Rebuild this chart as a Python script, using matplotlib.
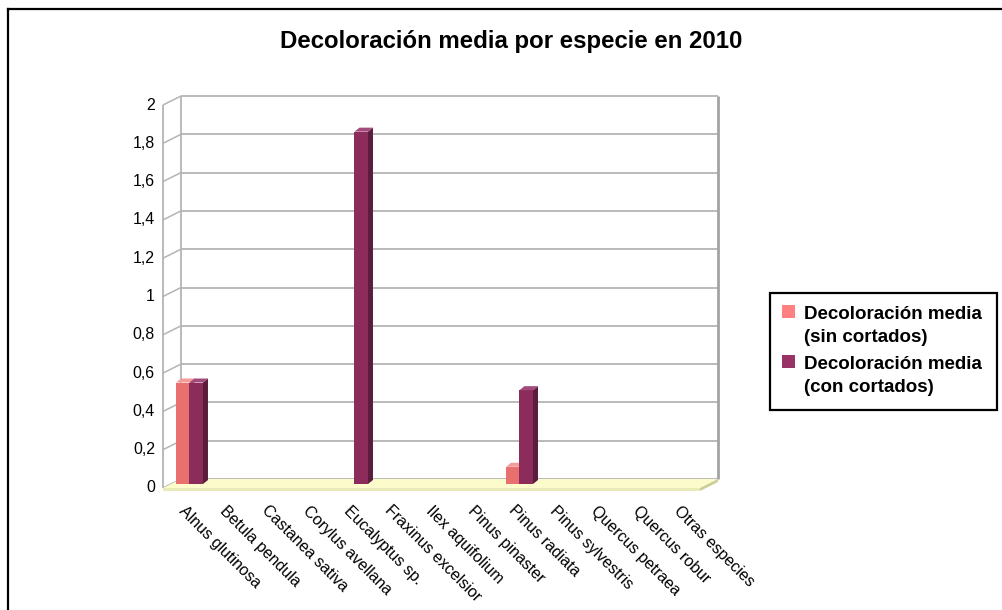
import matplotlib
matplotlib.use("Agg")
import matplotlib.pyplot as plt
from matplotlib.patches import Polygon, Rectangle
from matplotlib.lines import Line2D
from matplotlib.transforms import IdentityTransform, ScaledTranslation
import numpy as np

plt.rcParams['font.family'] = ['Liberation Sans', 'DejaVu Sans']

# ---- data -------------------------------------------------------------
title = "Decoloración media por especie en 2010"
especies = [
    "Alnus glutinosa", "Betula pendula", "Castanea sativa", "Corylus avellana",
    "Eucalyptus sp.", "Fraxinus excelsior", "Ilex aquifolium", "Pinus pinaster",
    "Pinus radiata", "Pinus sylvestris", "Quercus petraea", "Quercus robur",
    "Otras especies",
]
decol_sin_cortados = [0.53, 0, 0, 0, 0, 0, 0, 0, 0.09, 0, 0, 0, 0]
decol_con_cortados = [0.53, 0, 0, 0, 1.84, 0, 0, 0, 0.49, 0, 0, 0, 0]
series_labels = [("Decoloración media", "(sin cortados)"),
                 ("Decoloración media", "(con cortados)")]
y_ticks = [0, 0.2, 0.4, 0.6, 0.8, 1.0, 1.2, 1.4, 1.6, 1.8, 2.0]
y_tick_labels = ["0", "0,2", "0,4", "0,6", "0,8", "1", "1,2", "1,4", "1,6", "1,8", "2"]

# ---- style ------------------------------------------------------------
PINK = dict(front="#e8716f", top="#f39d9a", side="#b55451", legend="#ff8080")
PURPLE = dict(front="#8b2c5b", top="#a24a7b", side="#5c1c3c", legend="#993366")
GRID = "#b4b4b4"
FLOOR_TOP = "#fbfbcc"
FLOOR_FRONT = "#eaeab8"
FLOOR_SIDE = "#cdcd98"

W, H, DPI = 1003, 610, 100
fig = plt.figure(figsize=(W / DPI, H / DPI), dpi=DPI)
fig.patch.set_facecolor("white")

# axes = the plane in which the bar fronts stand
ax = fig.add_axes([172 / W, 126 / H, 537 / W, 383 / H])
ax.set_autoscale_on(False)
ax.set_xlim(-0.424, 12.594)
ax.set_ylim(0, 2)
ax.axis("off")

BACK = (9, 5)      # pixel shift from bar plane to back wall
FRONT = (-9, -4)   # pixel shift from bar plane to front edge
BAR_DEPTH = (5, 4)  # visible depth of each column


def shift(dx, dy):
    return ScaledTranslation(dx / DPI, dy / DPI, fig.dpi_scale_trans)


yax = ax.get_yaxis_transform()


def wall_pt(xa, v, off):
    return (yax + shift(*off)).transform((xa, v))


def add_line(p, q, color, lw, z):
    ln = Line2D([p[0], q[0]], [p[1], q[1]], color=color, lw=lw,
                transform=IdentityTransform(), zorder=z, clip_on=False,
                solid_capstyle="butt")
    ax.add_artist(ln)


def add_poly(pts, color, z):
    pg = Polygon(np.array(pts), closed=True, facecolor=color, edgecolor="none",
                 transform=IdentityTransform(), zorder=z, clip_on=False)
    ax.add_artist(pg)


# back wall grid, left wall ticks and wall edges
for v in y_ticks:
    add_line(wall_pt(0, v, BACK), wall_pt(1, v, BACK), GRID, 1.3, 1)
    add_line(wall_pt(0, v, BACK), wall_pt(0, v, FRONT), GRID, 1.1, 1)
add_line(wall_pt(0, 0, BACK), wall_pt(0, 2, BACK), GRID, 1.3, 1)
add_line(wall_pt(0, 0, FRONT), wall_pt(0, 2, FRONT), GRID, 1.3, 1)
add_line(wall_pt(1, 0, BACK), wall_pt(1, 2, BACK), "#a4a4a4", 2.0, 1)

# floor slab
bl, br = wall_pt(0, 0, BACK), wall_pt(1, 0, BACK)
fl, fr = wall_pt(0, 0, FRONT), wall_pt(1, 0, FRONT)
thick = np.array([0, -3])
add_poly([bl, br, fr, fl], FLOOR_TOP, 2)
add_poly([fl, fr, fr + thick, fl + thick], FLOOR_FRONT, 2)
add_poly([br, fr, fr + thick, br + thick], FLOOR_SIDE, 2)

# y tick labels on the front edge
for v, lab in zip(y_ticks, y_tick_labels):
    ax.text(0, v, lab, transform=yax + shift(FRONT[0] - 8, FRONT[1]),
            ha="right", va="center", fontsize=11.5, color="black")

# columns
x = np.arange(len(especies))
bw = 0.327
for vals, offs, col, z in [(decol_sin_cortados, -bw / 2, PINK, 4),
                           (decol_con_cortados, bw / 2, PURPLE, 6)]:
    ax.bar(x + offs, vals, bw, color=col["front"], zorder=z + 1, linewidth=0)
    for xi, h in zip(x, vals):
        if h <= 0:
            continue
        xl, xr = xi + offs - bw / 2, xi + offs + bw / 2
        A = ax.transData.transform((xr, 0))
        B = ax.transData.transform((xr, h))
        TL = ax.transData.transform((xl, h))
        d = np.array(BAR_DEPTH)
        add_poly([A, B, B + d, A + d], col["side"], z)
        add_poly([TL, B, B + d, TL + d], col["top"], z + 1)

# category labels, hanging diagonally below the floor
for xi, name in zip(x, especies):
    ax.text(xi, 0, name, transform=ax.transData + shift(-3, -19),
            rotation=-45, rotation_mode="anchor", ha="left", va="top",
            fontsize=11.5, clip_on=False)

# title
fig.text(511 / W, 1 - 48 / H, title, ha="center", va="baseline",
         fontsize=17.3, fontweight="bold")

# legend
fig.add_artist(Rectangle((770 / W, 1 - 410 / H), 227 / W, 117 / H,
                         transform=fig.transFigure, facecolor="white",
                         edgecolor="black", lw=1.6, zorder=5))
for k, (lines, col) in enumerate(zip(series_labels, [PINK, PURPLE])):
    top = 305 + 50 * k
    fig.add_artist(Rectangle((782 / W, 1 - (top + 13) / H), 13 / W, 13 / H,
                             transform=fig.transFigure, facecolor=col["legend"],
                             edgecolor="none", zorder=6))
    for j, line in enumerate(lines):
        fig.text(804 / W, 1 - (319 + 50 * k + 23 * j) / H, line,
                 ha="left", va="baseline", fontsize=13.5, fontweight="bold",
                 zorder=6)

# outer frame
fig.add_artist(Line2D([8 / W, 8 / W], [0, 1 - 9 / H], color="black", lw=1.6,
                      transform=fig.transFigure))
fig.add_artist(Line2D([8 / W, 1], [1 - 9 / H, 1 - 9 / H], color="black", lw=1.6,
                      transform=fig.transFigure))

fig.savefig("out.png", dpi=DPI, facecolor="white")
